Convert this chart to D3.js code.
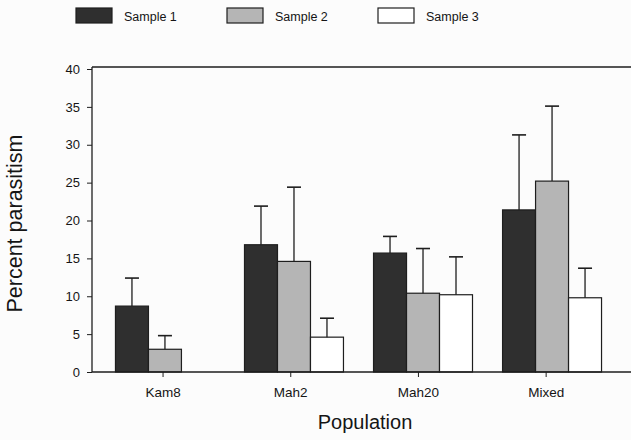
<!DOCTYPE html>
<html>
<head>
<meta charset="utf-8">
<script src="https://cdn.jsdelivr.net/npm/d3@7"></script>
<style>
  body { margin: 0; background: #fcfcfc; }
  svg { display: block; font-family: "Liberation Sans", Arial, sans-serif; }
  .tick text { fill: #151515; }
</style>
</head>
<body>
<svg width="631" height="440"></svg>
<script>
"use strict";

const populations = ["Kam8", "Mah2", "Mah20", "Mixed"];
const samples = ["Sample 1", "Sample 2", "Sample 3"];
const sample1 = [8.7, 16.8, 15.7, 21.4];
const sample2 = [3.0, 14.6, 10.4, 25.2];
const sample3 = [0, 4.6, 10.2, 9.8];
const err1 = [3.7, 5.1, 2.2, 9.9];
const err2 = [1.8, 9.8, 5.9, 9.9];
const err3 = [0, 2.5, 5.0, 3.9];
const yTicks = [0, 5, 10, 15, 20, 25, 30, 35, 40];

const svg = d3.select("svg");
const fills = ["#2f2f2f", "#b5b5b5", "#ffffff"];
const ink = "#1e1e1e";
const textInk = "#151515";

const plot = { left: 92, right: 633, top: 69, bottom: 372 };

const values = [sample1, sample2, sample3];
const errors = [err1, err2, err3];
const data = [];
populations.forEach((p, i) => {
  samples.forEach((s, j) => {
    data.push({ pop: p, sample: s, idx: j, value: values[j][i], err: errors[j][i] });
  });
});

const yScale = d3.scaleLinear().domain([0, 40]).range([plot.bottom, plot.top]);

const xScale = d3.scaleBand()
  .domain(populations)
  .range([100.5, 616.5])
  .paddingInner(0.233)
  .paddingOuter(0.116);

// tick marks in the original sit a little left of the bar groups
const xAxisScale = d3.scaleBand()
  .domain(populations)
  .range([99.2, 610]);

const subScale = d3.scaleBand()
  .domain(samples)
  .range([0, xScale.bandwidth()]);

// top frame line
svg.append("line")
  .attr("x1", plot.left).attr("x2", plot.right)
  .attr("y1", yScale(40) - 2).attr("y2", yScale(40) - 2)
  .attr("stroke", ink).attr("stroke-width", 1.3);

// bars
const g = svg.append("g");
g.selectAll("rect.bar")
  .data(data.filter(d => d.value > 0))
  .enter()
  .append("rect")
  .attr("class", "bar")
  .attr("x", d => xScale(d.pop) + subScale(d.sample))
  .attr("y", d => yScale(d.value))
  .attr("width", subScale.bandwidth())
  .attr("height", d => yScale(0) - yScale(d.value))
  .attr("fill", d => fills[d.idx])
  .attr("stroke", ink)
  .attr("stroke-width", 1.2);

// error bars (upper only)
const eb = g.selectAll("g.err")
  .data(data.filter(d => d.err > 0))
  .enter()
  .append("g")
  .attr("class", "err")
  .attr("transform", d => `translate(${xScale(d.pop) + subScale(d.sample) + subScale.bandwidth() / 2},0)`);

eb.append("line")
  .attr("y1", d => yScale(d.value))
  .attr("y2", d => yScale(d.value + d.err))
  .attr("stroke", ink).attr("stroke-width", 1.3);

eb.append("line")
  .attr("x1", -7).attr("x2", 7)
  .attr("y1", d => yScale(d.value + d.err))
  .attr("y2", d => yScale(d.value + d.err))
  .attr("stroke", ink).attr("stroke-width", 1.6);

// axes
const yAxis = d3.axisLeft(yScale)
  .tickValues(yTicks)
  .tickSize(5)
  .tickPadding(7);

const yAxisG = svg.append("g")
  .attr("transform", `translate(${plot.left},0)`)
  .call(yAxis);
yAxisG.select(".domain").remove();
yAxisG.append("line")
  .attr("y1", yScale(40) - 2).attr("y2", plot.bottom)
  .attr("stroke", ink).attr("stroke-width", 1.3);
yAxisG.selectAll(".tick line").attr("stroke", ink);
yAxisG.selectAll(".tick text").attr("font-size", 13);

const xAxis = d3.axisBottom(xAxisScale)
  .tickSize(5)
  .tickPadding(10);

const xAxisG = svg.append("g")
  .attr("transform", `translate(0,${plot.bottom})`)
  .call(xAxis);
xAxisG.select(".domain").remove();
xAxisG.append("line")
  .attr("x1", plot.left).attr("x2", plot.right)
  .attr("stroke", ink).attr("stroke-width", 1.3);
xAxisG.selectAll(".tick line").attr("stroke", ink);
xAxisG.selectAll(".tick text").attr("font-size", 13.5);

// axis titles
svg.append("text")
  .attr("x", 365).attr("y", 429)
  .attr("text-anchor", "middle")
  .attr("font-size", 20)
  .attr("fill", textInk)
  .text("Population");

svg.append("text")
  .attr("transform", `translate(22,${(plot.top + plot.bottom) / 2 + 3}) rotate(-90)`)
  .attr("text-anchor", "middle")
  .attr("font-size", 21.5)
  .attr("fill", textInk)
  .text("Percent parasitism");

// legend
const legendX = [76, 227, 378];
const legend = svg.append("g");
const items = legend.selectAll("g")
  .data(samples)
  .enter()
  .append("g")
  .attr("transform", (d, i) => `translate(${legendX[i]},8)`);

items.append("rect")
  .attr("width", 36).attr("height", 15)
  .attr("fill", (d, i) => fills[i])
  .attr("stroke", ink).attr("stroke-width", 1.2);

items.append("text")
  .attr("x", 48).attr("y", 13)
  .attr("font-size", 12.5)
  .attr("fill", textInk)
  .text(d => d);
</script>
</body>
</html>
